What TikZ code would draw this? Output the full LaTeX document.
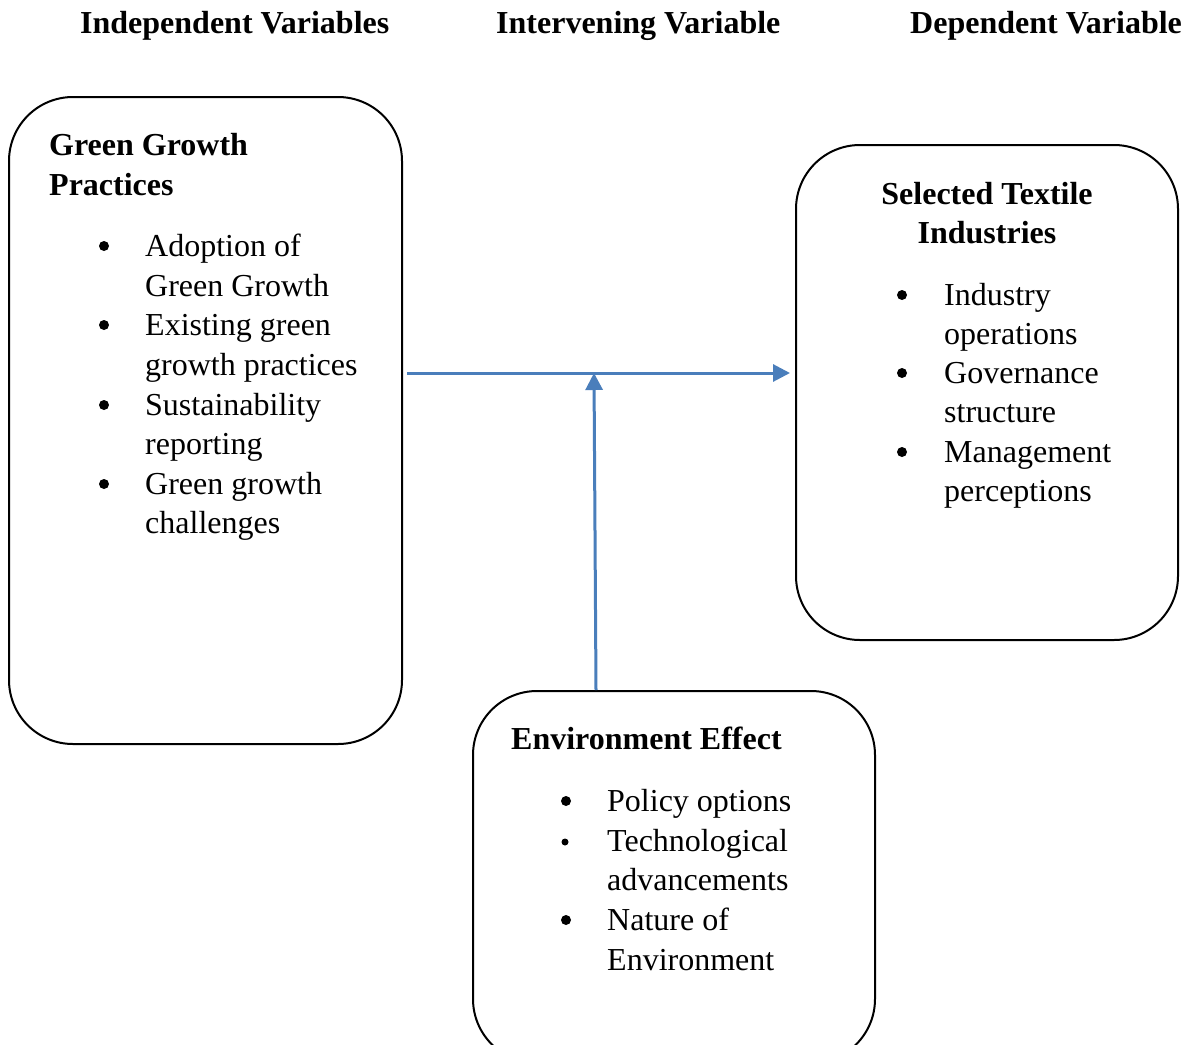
\documentclass[tikz,border=0pt]{standalone}
\usepackage{fontspec}
\setmainfont{Liberation Serif}
\usetikzlibrary{arrows.meta}
\definecolor{arrowblue}{HTML}{4A7EBB}
\newcommand{\bodyfont}{\fontsize{32pt}{40pt}\selectfont}
\begin{document}
\begin{tikzpicture}[x=1pt,y=-1pt,
  box/.style={draw=black, line width=2pt, rounded corners=64pt, inner sep=0pt},
  txt/.style={anchor=base west, inner sep=0pt, font=\bodyfont},
  head/.style={anchor=base west, inner sep=0pt, font=\bodyfont\bfseries},
  chead/.style={anchor=base, inner sep=0pt, font=\bodyfont\bfseries},
  bul/.style={circle, fill=black, inner sep=0pt, minimum size=10pt},
  sbul/.style={circle, fill=black, inner sep=0pt, minimum size=7pt},
  conn/.style={draw=arrowblue, line width=3pt, -{Triangle[length=17pt,width=17pt]}}
]
\useasboundingbox (0,0) rectangle (1191,1044);
\clip (0,0) rectangle (1191,1044);
\fill[white] (0,0) rectangle (1191,1044);

% column headings
\node[head] (h1) at (80,33) {Independent Variables};
\node[head] (h2) at (496,33) {Intervening Variable};
\node[head] (h3) at (910,33) {Dependent Variable};

% boxes
\node[box, minimum width=393pt, minimum height=647pt] (gg) at (205.5,420.5) {};
\node[box, minimum width=382pt, minimum height=495pt] (st) at (987,392.5) {};
\node[box, minimum width=402pt, minimum height=372pt] (ee) at (674,877) {};

% left box text
\node[head] (gg1) at (49,155) {Green Growth};
\node[head] (gg2) at (49,195) {Practices};
\node[bul] (gb1) at (104,246) {};
\node[txt] (gt1) at (145,256) {Adoption of};
\node[txt] (gt2) at (145,296) {Green Growth};
\node[bul] (gb2) at (104,325) {};
\node[txt] (gt3) at (145,335) {Existing green};
\node[txt] (gt4) at (145,375) {growth practices};
\node[bul] (gb3) at (104,405) {};
\node[txt] (gt5) at (145,415) {Sustainability};
\node[txt] (gt6) at (145,454) {reporting};
\node[bul] (gb4) at (104,484) {};
\node[txt] (gt7) at (145,494) {Green growth};
\node[txt] (gt8) at (145,533) {challenges};

% right box text
\node[chead] (st1) at (987,204) {Selected Textile};
\node[chead] (st2) at (987,243) {Industries};
\node[bul] (sb1) at (902,295) {};
\node[txt] (sx1) at (944,305) {Industry};
\node[txt] (sx2) at (944,344) {operations};
\node[bul] (sb2) at (902,373) {};
\node[txt] (sx3) at (944,383) {Governance};
\node[txt] (sx4) at (944,422) {structure};
\node[bul] (sb3) at (902,452) {};
\node[txt] (sx5) at (944,462) {Management};
\node[txt] (sx6) at (944,501) {perceptions};

% bottom box text
\node[head] (ee1) at (511,749) {Environment Effect};
\node[bul] (eb1) at (566,801) {};
\node[txt] (ex1) at (607,811) {Policy options};
\node[sbul] (eb2) at (565,842) {};
\node[txt] (ex2) at (607,851) {Technological};
\node[txt] (ex3) at (607,890) {advancements};
\node[bul] (eb3) at (566,920) {};
\node[txt] (ex4) at (607,930) {Nature of};
\node[txt] (ex5) at (607,970) {Environment};

% connectors
\coordinate (hs) at ([xshift=4pt]gg.east |- 0,373);
\coordinate (he) at ([xshift=-5pt]st.west |- 0,373);
\coordinate (mid) at (594,373);
\coordinate (vs) at (ee.north -| 596,0);
\draw[conn] (hs) -- (he);
\draw[conn] (vs) -- (mid);
\end{tikzpicture}
\end{document}
